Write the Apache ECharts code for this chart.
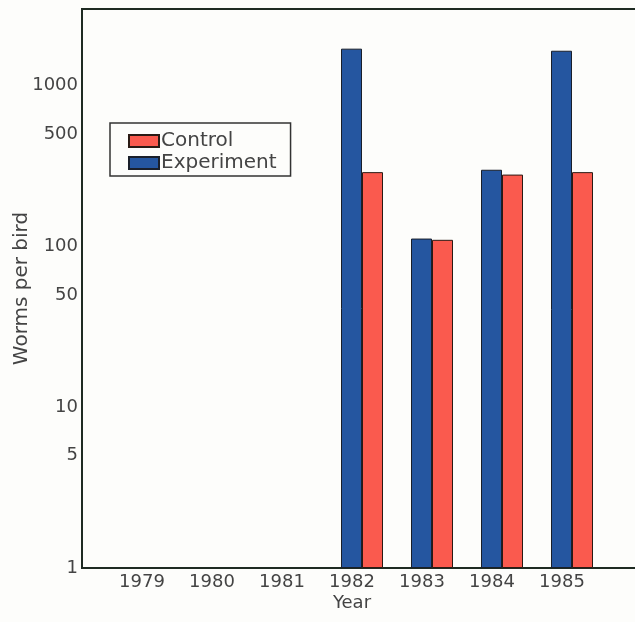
<!DOCTYPE html>
<html>
<head>
<meta charset="utf-8">
<script src="https://cdn.jsdelivr.net/npm/echarts@6/dist/echarts.min.js"></script>
<style>
  html, body { margin: 0; padding: 0; background: #fdfdfb; }
  #chart { width: 635px; height: 622px; }
</style>
</head>
<body>
<div id="chart"></div>
<script>
// Years on the x axis (empty slots pad both ends of the frame)
const years = ['', '1979', '1980', '1981', '1982', '1983', '1984', '1985', ''];
// Worms per bird; no samples before 1982
const experiment = [null, null, null, null, 1700, 112, 300, 1650, null];
const control = [null, null, null, null, 290, 110, 280, 290, null];
// Labelled values on the logarithmic y axis
const yTicks = [1, 5, 10, 50, 100, 500, 1000];

const font = 'DejaVu Sans';
const ink = '#1e2a22';
const textColor = '#444444';

const chart = echarts.init(document.getElementById('chart'));
chart.setOption({
  backgroundColor: '#fdfdfb',
  animation: false,
  grid: {
    left: 82, top: 9, right: -7, bottom: 54,
    containLabel: false,
    outerBoundsMode: 'none',
    show: true, borderColor: ink, borderWidth: 2, backgroundColor: 'transparent'
  },
  legend: {
    data: ['Control', 'Experiment'],
    orient: 'vertical',
    left: 110, top: 123,
    padding: [8, 14, 3, 18],
    itemWidth: 30, itemHeight: 12, itemGap: 2,
    borderColor: '#333', borderWidth: 1.5,
    textStyle: { fontFamily: font, fontSize: 20, lineHeight: 20, color: textColor, padding: [0, 0, 0, -3] },
    icon: 'rect'
  },
  xAxis: {
    type: 'category',
    data: years,
    boundaryGap: false,
    name: 'Year',
    nameLocation: 'middle',
    nameGap: 26,
    nameMoveOverlap: false,
    nameTextStyle: { fontFamily: font, fontSize: 18, color: textColor, padding: [0, 20, 0, 0] },
    axisLine: { lineStyle: { color: ink, width: 2 } },
    axisTick: { show: false },
    axisLabel: {
      interval: 0, margin: 5,
      fontFamily: font, fontSize: 18, color: textColor,
      padding: [0, 20, 0, 0]
    },
    splitLine: { show: false }
  },
  yAxis: {
    type: 'log',
    logBase: 10,
    min: 1, max: 3000,
    name: 'Worms per bird',
    nameLocation: 'middle',
    nameGap: 50,
    nameMoveOverlap: false,
    nameTextStyle: { fontFamily: font, fontSize: 20, color: textColor },
    axisLine: { show: true, lineStyle: { color: ink, width: 2 } },
    axisTick: { show: false },
    axisLabel: {
      customValues: yTicks,
      formatter: (v) => String(Math.round(v)),
      margin: 4,
      fontFamily: font, fontSize: 18, color: textColor
    },
    splitLine: { show: false },
    minorTick: { show: false }
  },
  series: [
    {
      name: 'Experiment', type: 'bar', data: experiment,
      barWidth: 21, barGap: '0%',
      itemStyle: { color: '#2556a0', borderColor: '#1a1f2a', borderWidth: 1 }
    },
    {
      name: 'Control', type: 'bar', data: control,
      barWidth: 21, barGap: '0%',
      itemStyle: { color: '#fa5a4e', borderColor: '#2a1a14', borderWidth: 1 }
    }
  ]
});
</script>
</body>
</html>
